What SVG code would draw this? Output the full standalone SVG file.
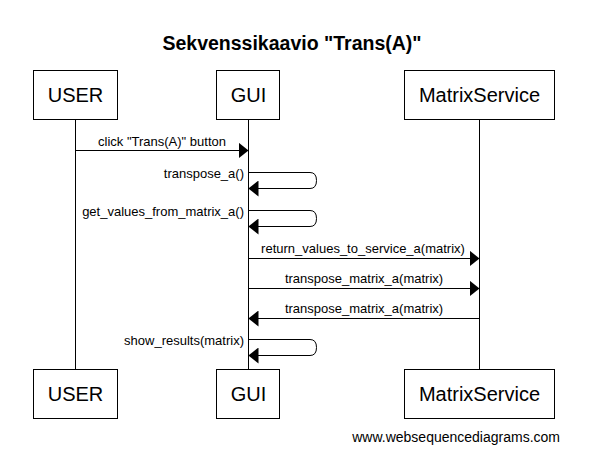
<svg xmlns="http://www.w3.org/2000/svg" width="589" height="470" viewBox="0 0 589 470">
<style>
.box{fill:#fff;stroke:#000;stroke-width:1}
.lbl{font-family:"Liberation Sans",Arial,sans-serif;font-size:20px;fill:#000;text-anchor:middle}
.msg{font-family:"Liberation Sans",Arial,sans-serif;font-size:13px;fill:#000}
.line{fill:none;stroke:#000;stroke-width:1}
</style>
<defs>
<marker id="ah" markerUnits="userSpaceOnUse" markerWidth="10" markerHeight="16" refX="10" refY="8" orient="auto" viewBox="0 0 10 16">
<path d="M0,0 L10,8 L0,16 z" fill="#000"/>
</marker>
</defs>
<rect width="589" height="470" fill="#fff"/>
<text x="292" y="50" font-family="'Liberation Sans',Arial,sans-serif" font-size="19.5" font-weight="bold" text-anchor="middle">Sekvenssikaavio "Trans(A)"</text>
<g id="lifelines">
<line class="line" x1="75.5" y1="120" x2="75.5" y2="369"/>
<line class="line" x1="248.5" y1="120" x2="248.5" y2="369"/>
<line class="line" x1="479.5" y1="120" x2="479.5" y2="369"/>
</g>
<g id="user">
<rect class="box" x="33.5" y="70.5" width="84" height="49"/>
<text class="lbl" x="75.5" y="102">USER</text>
<rect class="box" x="33.5" y="369.5" width="84" height="49"/>
<text class="lbl" x="75.5" y="401">USER</text>
</g>
<g id="gui">
<rect class="box" x="216.5" y="70.5" width="63" height="49"/>
<text class="lbl" x="248.5" y="102">GUI</text>
<rect class="box" x="216.5" y="369.5" width="63" height="49"/>
<text class="lbl" x="248.5" y="401">GUI</text>
</g>
<g id="matrixservice">
<rect class="box" x="404.5" y="70.5" width="150" height="49"/>
<text class="lbl" x="479.5" y="102">MatrixService</text>
<rect class="box" x="404.5" y="369.5" width="150" height="49"/>
<text class="lbl" x="479.5" y="401">MatrixService</text>
</g>
<g id="connectors">
<path class="line" d="M75.5,150.5 H248.5" marker-end="url(#ah)"/>
<text class="msg" x="162" y="146" text-anchor="middle">click "Trans(A)" button</text>
<path class="line" d="M248.5,172.5 H310 Q316.5,172.5 316.5,180.5 Q316.5,188.5 310,188.5 H248.5" marker-end="url(#ah)"/>
<text class="msg" x="244" y="178" text-anchor="end">transpose_a()</text>
<path class="line" d="M248.5,210.5 H310 Q316.5,210.5 316.5,218.5 Q316.5,226.5 310,226.5 H248.5" marker-end="url(#ah)"/>
<text class="msg" x="244" y="216" text-anchor="end">get_values_from_matrix_a()</text>
<path class="line" d="M248.5,258.5 H479.5" marker-end="url(#ah)"/>
<text class="msg" x="363" y="253" text-anchor="middle">return_values_to_service_a(matrix)</text>
<path class="line" d="M248.5,288.5 H479.5" marker-end="url(#ah)"/>
<text class="msg" x="364" y="283" text-anchor="middle">transpose_matrix_a(matrix)</text>
<path class="line" d="M479.5,318.5 H248.5" marker-end="url(#ah)"/>
<text class="msg" x="364" y="313" text-anchor="middle">transpose_matrix_a(matrix)</text>
<path class="line" d="M248.5,339.5 H310 Q316.5,339.5 316.5,347.5 Q316.5,355.5 310,355.5 H248.5" marker-end="url(#ah)"/>
<text class="msg" x="244" y="345" text-anchor="end">show_results(matrix)</text>
</g>
<text x="560" y="442" font-family="'Liberation Sans',Arial,sans-serif" font-size="14" text-anchor="end">www.websequencediagrams.com</text>
</svg>
